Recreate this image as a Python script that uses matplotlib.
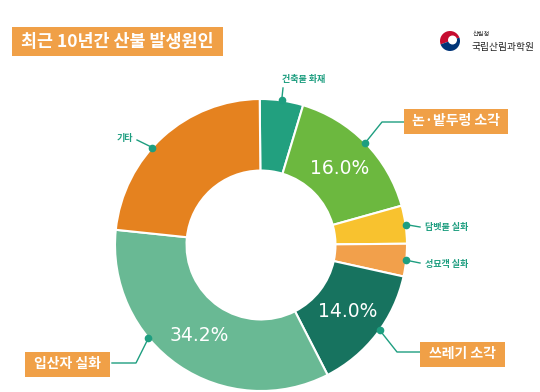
import matplotlib
matplotlib.use("Agg")
import matplotlib.pyplot as plt
import numpy as np
from matplotlib.patches import Rectangle, Wedge, Circle

plt.rcParams['font.family'] = ['Noto Sans CJK KR', 'DejaVu Sans']

# data
causes = ['건축물 화재', '논·밭두렁 소각', '담뱃불 실화', '성묘객 실화', '쓰레기 소각', '입산자 실화', '기타']
shares = [4.8, 16.0, 4.2, 3.6, 14.0, 34.2, 23.2]
show_pct = [False, True, False, False, True, True, False]
colors = ['#22A07F', '#6CB83F', '#F8C22F', '#F2A04B', '#17735F', '#69B994', '#E5821F']
boxed = [False, True, False, False, True, True, False]

title = '최근 10년간 산불 발생원인'
ORANGE = '#F0A047'
TEAL = '#1E9E80'

W, H = 540, 392
fig = plt.figure(figsize=(W / 100, H / 100), dpi=100)
ax = fig.add_axes([0, 0, 1, 1])

def py(y):  # pixel row (from top) -> axes y
    return H - y

cx, cy, R = 261, py(245), 146
wedges, texts = ax.pie(
    shares, colors=colors, startangle=90.5, counterclock=False,
    center=(cx, cy), radius=R,
    wedgeprops=dict(width=R * 0.49, edgecolor='white', linewidth=1.5))

# percent labels inside the ring
for i, w in enumerate(wedges):
    if not show_pct[i]:
        continue
    a = np.deg2rad((w.theta1 + w.theta2) / 2)
    ax.text(cx + 0.75 * R * np.cos(a), cy + 0.75 * R * np.sin(a), f'{shares[i]:.1f}%',
            color='white', fontsize=13.5, family=['DejaVu Sans'],
            ha='center', va='center', zorder=6)

# callout layout: angle fraction along wedge, elbow, line end, text pos
frac = [0.5, 0.5, 0.5, 0.5, 0.54, 0.37, 0.57]
elbow = [(283, 88), (382, 122), None, None, (397, 352), (136, 363), None]
lend = [(283, 88), (404, 122), (420, 227), (420, 263), (420, 352), (112, 363), (137, 140)]
tpos = [(304, 79), (456, 121), (425, 227), (425, 264), (462, 354), (67, 364), (133, 138)]
tha = ['center', 'center', 'left', 'left', 'center', 'center', 'right']
boxw = [0, 104, 0, 0, 85, 85, 0]

for i, w in enumerate(wedges):
    a = np.deg2rad(w.theta1 + (w.theta2 - w.theta1) * frac[i])
    dx, dy = cx + R * np.cos(a), cy + R * np.sin(a)
    xs, ys = [dx], [dy]
    if elbow[i] is not None:
        xs.append(elbow[i][0]); ys.append(py(elbow[i][1]))
    xs.append(lend[i][0]); ys.append(py(lend[i][1]))
    ax.plot(xs, ys, color=TEAL, lw=1.0, zorder=5)
    ax.plot(dx, dy, 'o', color=TEAL, ms=4.5, zorder=6)
    tx, ty = tpos[i]
    if boxed[i]:
        ax.add_patch(Rectangle((tx - boxw[i] / 2, py(ty) - 12.5), boxw[i], 25,
                               facecolor=ORANGE, edgecolor='none', zorder=6))
        ax.text(tx, py(ty), causes[i], color='white', fontsize=10, fontweight='bold',
                ha='center', va='center', zorder=7)
    else:
        ax.text(tx, py(ty), causes[i], color=TEAL, fontsize=6.5, fontweight='bold',
                ha=tha[i], va='center', zorder=7)

# title box
ax.add_patch(Rectangle((12, py(56)), 211, 29, facecolor=ORANGE, edgecolor='none'))
ax.text(117, py(41.5), title, color='white', fontsize=12.5, fontweight='bold',
        ha='center', va='center')

# logo
lx, ly = 450, py(41)
ax.add_patch(Wedge((lx, ly), 10, 20, 200, facecolor='#C60C30', edgecolor='none'))
ax.add_patch(Wedge((lx, ly), 10, 200, 380, facecolor='#003478', edgecolor='none'))
ax.add_patch(Circle((lx + 2.5, ly + 1), 4.5, facecolor='white', edgecolor='none'))
ax.text(473, py(34), '산림청', fontsize=4.5, color='#333333', va='center')
ax.text(472, py(47), '국립산림과학원', fontsize=7, color='#222222', va='center')

ax.set_xlim(0, W)
ax.set_ylim(0, H)
ax.set_aspect('auto')
ax.axis('off')
fig.savefig('out.png', dpi=100, facecolor='white')
